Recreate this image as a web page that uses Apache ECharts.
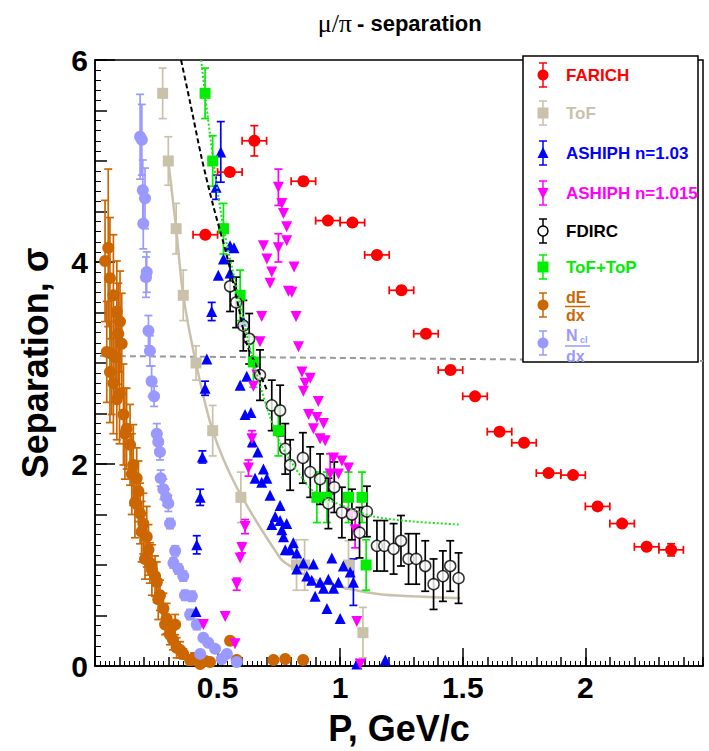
<!DOCTYPE html>
<html><head><meta charset="utf-8">
<script src="https://cdn.jsdelivr.net/npm/echarts@6/dist/echarts.min.js"></script>
<style>html,body{margin:0;padding:0;background:#fff}#c{width:709px;height:751px}</style>
</head><body><div id="c"></div>
<script>
// ---------- data (P in GeV/c, separation in sigma) ----------
const farichP   = [0.45,0.55,0.65,0.85,0.95,1.05,1.15,1.25,1.35,1.45,1.55,1.65,1.75,1.85,1.95,2.05,2.15,2.25,2.35];
const farichSep = [4.27,4.89,5.20,4.80,4.41,4.39,4.07,3.72,3.29,2.93,2.67,2.32,2.21,1.91,1.89,1.58,1.41,1.18,1.15];
const farichErr = [0.03,0.04,0.15,0.04,0.03,0.03,0.03,0.03,0.03,0.03,0.03,0.03,0.03,0.03,0.03,0.03,0.03,0.03,0.06];
const farichPErr= [0.05,0.05,0.05,0.05,0.05,0.05,0.05,0.05,0.05,0.05,0.05,0.05,0.05,0.05,0.05,0.05,0.05,0.05,0.05];

const tofP   = [0.276,0.299,0.331,0.360,0.412,0.480,0.595,0.822,0.855,1.034,1.093];
const tofSep = [5.67,5.00,4.33,3.67,3.00,2.33,1.67,1.00,1.00,1.00,0.33];
const tofErr = [0.25,0.24,0.25,0.25,0.17,0.25,0.25,0.25,0.25,0.24,0.25];

const tofFitP   = [0.299,0.331,0.360,0.412,0.480,0.578,0.755,0.796,0.891,1.027,1.163,1.299,1.490];
const tofFitSep = [5.00,4.33,3.67,3.00,2.33,1.77,1.07,0.99,0.86,0.77,0.71,0.69,0.67];

const ash103P   = [0.513,0.494,0.551,0.567,0.524,0.503,0.551,0.476,0.605,0.456,0.449,0.619,0.592,0.612,0.636,0.438,0.642,0.664,0.429,0.653,0.687,0.701,0.680,0.714,0.415,0.755,0.735,0.755,0.721,0.762,0.776,0.412,0.782,0.769,0.809,0.796,0.823,0.850,0.823,0.864,0.891,0.884,0.918,0.898,0.932,0.952,0.973,0.993,0.966,1.013,1.041,1.054,0.946,1.000,1.068,1.184];
const ash103Sep = [5.09,4.74,4.16,4.14,4.03,3.87,3.89,3.51,3.41,3.04,2.75,2.87,2.78,2.49,2.51,2.07,2.22,2.12,1.67,1.86,1.95,1.86,1.82,1.69,1.20,1.59,1.48,1.44,1.40,1.35,1.15,0.54,1.41,1.28,1.22,1.15,1.12,1.02,0.96,0.89,1.01,0.85,0.83,0.69,0.77,0.86,0.77,0.83,1.07,0.99,0.93,0.83,0.57,0.47,0.02,0.06];
const ash103Err = [0.30,0.12,0,0,0,0,0,0.09,0,0,0.07,0,0,0,0,0.06,0,0,0.08,0,0,0,0,0,0.09,0,0,0,0,0,0,0,0,0,0,0,0,0,0,0,0,0,0,0,0,0,0,0,0,0,0,0.23,0,0,0,0];

const ash1015P   = [0.748,0.762,0.769,0.782,0.687,0.748,0.782,0.701,0.721,0.714,0.789,0.680,0.673,0.812,0.803,0.820,0.830,0.660,0.646,0.640,0.626,0.612,0.599,0.592,0.578,0.531,0.442,0.571,0.844,0.878,0.857,0.850,0.911,0.871,0.905,0.932,0.891,0.918,0.939,0.973,1.007,1.034,0.993,0.959,1.041,1.061,1.068,1.082];
const ash1015Sep = [4.74,4.58,4.48,4.35,4.16,4.14,4.21,4.03,3.90,3.79,3.71,3.46,3.21,3.95,3.70,3.46,3.16,2.88,2.77,2.25,1.96,1.38,1.17,1.07,0.81,0.49,0.41,0.22,2.91,2.85,2.80,2.72,2.62,2.49,2.46,2.40,2.35,2.25,2.23,2.06,2.03,1.96,1.90,1.90,1.51,1.35,0.44,0.02];
const ash1015Err = [0.18,0,0,0,0,0.14,0,0,0,0,0,0,0,0,0,0,0,0,0,0.08,0.08,0.07,0.05,0,0.06,0,0,0,0,0,0,0,0,0,0,0,0,0,0,0,0,0,0,0.2,0,0.18,0,0];

const fdircP   = [0.551,0.576,0.605,0.629,0.673,0.721,0.755,0.776,0.796,0.848,0.878,0.918,0.952,0.976,1.007,1.048,1.079,1.109,1.150,1.180,1.218,1.248,1.279,1.310,1.347,1.381,1.419,1.449,1.483];
const fdircSep = [3.76,3.60,3.37,3.24,2.88,2.58,2.53,2.15,1.99,2.06,1.92,1.85,1.61,1.77,1.52,1.50,1.32,1.53,1.19,1.19,1.16,1.24,1.06,1.06,0.99,0.81,0.89,0.99,0.87];
const fdircErr = [0.25,0.25,0.25,0.25,0.25,0.25,0.25,0.25,0.25,0.25,0.25,0.25,0.25,0.25,0.25,0.25,0.25,0.25,0.25,0.25,0.25,0.25,0.25,0.25,0.25,0.25,0.25,0.25,0.25];

const ttP   = [0.449,0.480,0.524,0.592,0.646,0.748,0.905,0.946,1.034,1.089,1.106];
const ttSep = [5.67,5.00,4.33,3.67,3.01,2.33,1.67,1.67,1.67,1.67,1.00];
const ttErr = [0.25,0.25,0.25,0.25,0.25,0.25,0.25,0.25,0.25,0.25,0.25];

const dedxP   = [0.054,0.041,0.061,0.075,0.089,0.102,0.095,0.109,0.048,0.082,0.061,0.075,0.089,0.116,0.129,0.143,0.156,0.170,0.177,0.184,0.197,0.211,0.218,0.204,0.224,0.245,0.252,0.265,0.279,0.286,0.306,0.327,0.333,0.360,0.388,0.429,0.469,0.551,0.578,0.728,0.776,0.849,0.068,0.100,0.122,0.150,0.163,0.190,0.232,0.258,0.292,0.318,0.347,0.405,0.450];
const dedxSep = [4.14,4.01,3.84,3.67,3.51,3.41,3.29,3.19,3.11,3.06,2.91,2.80,2.64,2.49,2.35,2.19,1.99,1.86,1.73,1.51,1.41,1.28,1.15,1.06,1.02,0.89,0.83,0.70,0.57,0.41,0.31,0.41,0.18,0.12,0.06,0.02,0.04,0.25,0.06,0.06,0.07,0.06,3.09,2.70,2.30,1.90,1.62,1.33,0.95,0.66,0.47,0.26,0.16,0.08,0.05];
const dedxErr = [0.78,0.60,0.60,0.60,0.50,0.50,0.50,0.50,0.50,0.40,0.50,0.50,0.40,0.50,0.40,0.40,0.40,0.30,0.30,0.30,0.30,0.30,0.25,0.20,0.20,0.20,0.20,0.15,0.15,0.10,0.10,0.10,0.10,0.05,0.05,0,0,0,0,0,0,0,0.60,0.50,0.45,0.40,0.35,0.30,0.25,0.20,0.15,0.10,0.08,0.05,0];

const nclP   = [0.184,0.191,0.195,0.204,0.197,0.211,0.208,0.218,0.224,0.231,0.241,0.252,0.258,0.265,0.268,0.279,0.290,0.299,0.306,0.327,0.320,0.340,0.360,0.367,0.395,0.388,0.415,0.442,0.462,0.490,0.517,0.429,0.538,0.578];
const nclSep = [5.24,5.21,4.71,4.63,4.38,3.90,3.85,3.32,3.12,2.82,2.67,2.30,2.22,2.12,1.86,1.75,1.67,1.61,1.41,1.14,1.02,0.96,0.89,0.70,0.69,0.51,0.41,0.28,0.23,0.17,0.07,0.12,0.12,0.04];
const nclErr = [0.42,0.35,0.30,0.30,0.25,0.20,0.20,0.15,0.15,0.15,0.10,0.10,0.08,0.08,0.08,0.10,0.08,0.08,0.05,0.05,0.05,0.05,0.05,0.05,0.05,0.05,0.05,0.03,0.03,0.03,0.03,0.03,0.03,0.03];

const fdircFitP   = [0.351,0.388,0.435,0.483,0.538,0.580,0.619,0.660,0.700];
const fdircFitSep = [6.00,5.58,5.03,4.55,4.06,3.62,3.19,2.96,2.74];

const ttFitP   = [0.433,0.449,0.483,0.524,0.585,0.646,0.742,0.809,0.891,1.027,1.136,1.299,1.490];
const ttFitSep = [6.00,5.66,5.00,4.34,3.67,3.01,2.28,1.99,1.73,1.57,1.48,1.43,1.40];

const refLineP   = [0.02,2.48];
const refLineSep = [3.07,3.02];

const xTicks = [0.5,1,1.5,2];
const yTicks = [0,2,4,6];

// ---------- colours ----------
const C = {farich:'#ff0000', tof:'#c9c1aa', a103:'#0000ff', a1015:'#ff00ff', fdirc:'#000000', tt:'#00ee00', dedx:'#cc6600', ncl:'#9999ff'};

function pairs(a,b){ return a.map((v,i)=>[v,b[i]]); }

function errSeries(px, py, ey, ex, color, cap){
  const data = px.map((p,i)=>[p, py[i], ey ? ey[i] : 0, ex ? ex[i] : 0]);
  return {
    type:'custom', data, clip:true, silent:true, z:3,
    renderItem(params, api){
      const x=api.value(0), y=api.value(1), e=api.value(2), h=api.value(3);
      const c=api.coord([x,y]);
      const st={stroke:color, lineWidth:1.7};
      const ch=[];
      if(e>0){
        const t=api.coord([x,y+e]), b=api.coord([x,y-e]);
        ch.push({type:'line',shape:{x1:c[0],y1:t[1],x2:c[0],y2:b[1]},style:st});
        ch.push({type:'line',shape:{x1:c[0]-cap,y1:t[1],x2:c[0]+cap,y2:t[1]},style:st});
        ch.push({type:'line',shape:{x1:c[0]-cap,y1:b[1],x2:c[0]+cap,y2:b[1]},style:st});
      }
      if(h>0){
        const l=api.coord([x-h,y]), r=api.coord([x+h,y]);
        ch.push({type:'line',shape:{x1:l[0],y1:c[1],x2:r[0],y2:c[1]},style:st});
        ch.push({type:'line',shape:{x1:l[0],y1:c[1]-cap,x2:l[0],y2:c[1]+cap},style:st});
        ch.push({type:'line',shape:{x1:r[0],y1:c[1]-cap,x2:r[0],y2:c[1]+cap},style:st});
      }
      return {type:'group', children:ch};
    }
  };
}
function scat(name, px, py, symbol, size, color, extra){
  return Object.assign({type:'scatter', name, data:pairs(px,py), symbol, symbolSize:size,
    itemStyle:{color, opacity:1}, z:3, silent:true}, extra||{});
}

const FONT = 'Liberation Sans, Arial, Helvetica, sans-serif';
const chart = echarts.init(document.getElementById('c'), null, {renderer:'svg'});

const fx = v => xTicks.some(t=>Math.abs(t-v)<1e-6) ? String(v) : '';
const fy = v => yTicks.some(t=>Math.abs(t-v)<1e-6) ? String(v) : '';

const tickStyle = {color:'#000', width:1.5};

// ---------- legend (graphic) ----------
const lgX = 543, lgT = 566;
const legendRows = [
  {y:75,  color:C.farich, shape:'circle', text:'FARICH'},
  {y:113, color:C.tof,    shape:'rect',   text:'ToF'},
  {y:153, color:C.a103,   shape:'tri',    text:'ASHIPH n=1.03'},
  {y:193, color:C.a1015,  shape:'tridown',text:'ASHIPH n=1.015'},
  {y:231, color:C.fdirc,  shape:'open',   text:'FDIRC'},
  {y:267, color:C.tt,     shape:'rect',   text:'ToF+ToP'},
  {y:305, color:C.dedx,   shape:'circle', text:null},
  {y:343, color:C.ncl,    shape:'circle', text:null}
];
const txt = (x, y, s, color, size, family, weight, align) => ({type:'text', x, y, z:52,
  style:{text:s, fill:color, fontSize:size, fontWeight:weight||'bold', fontFamily:family||FONT, textAlign:align||'left', textVerticalAlign:'middle'}});
const graphic = [];
graphic.push({type:'rect', shape:{x:523,y:56,width:175,height:306}, style:{fill:'#fff', stroke:'#000', lineWidth:1.5}, z:50});
legendRows.forEach(r=>{
  const st={stroke:r.color, lineWidth:1.5};
  graphic.push({type:'line', shape:{x1:lgX,y1:r.y-12,x2:lgX,y2:r.y+12}, style:st, z:51});
  graphic.push({type:'line', shape:{x1:lgX-4,y1:r.y-12,x2:lgX+4,y2:r.y-12}, style:st, z:51});
  graphic.push({type:'line', shape:{x1:lgX-4,y1:r.y+12,x2:lgX+4,y2:r.y+12}, style:st, z:51});
  if(r.shape==='circle') graphic.push({type:'circle', shape:{cx:lgX,cy:r.y,r:5.5}, style:{fill:r.color}, z:52});
  if(r.shape==='open') graphic.push({type:'circle', shape:{cx:lgX,cy:r.y,r:5}, style:{fill:'#fff',stroke:'#000',lineWidth:1.5}, z:52});
  if(r.shape==='rect') graphic.push({type:'rect', shape:{x:lgX-5.5,y:r.y-5.5,width:11,height:11}, style:{fill:r.color}, z:52});
  if(r.shape==='tri') graphic.push({type:'polygon', shape:{points:[[lgX,r.y-6],[lgX+5.5,r.y+5],[lgX-5.5,r.y+5]]}, style:{fill:r.color}, z:52});
  if(r.shape==='tridown') graphic.push({type:'polygon', shape:{points:[[lgX,r.y+6],[lgX+5.5,r.y-5],[lgX-5.5,r.y-5]]}, style:{fill:r.color}, z:52});
  if(r.text) graphic.push(txt(lgT, r.y, r.text, r.color, 17));
});
// fractions dE/dx and Ncl/dx
graphic.push(txt(lgT, 297, 'dE', C.dedx, 16));
graphic.push({type:'line', shape:{x1:565,y1:306.5,x2:590,y2:306.5}, style:{stroke:C.dedx, lineWidth:1.5}, z:52});
graphic.push(txt(lgT, 315, 'dx', C.dedx, 16));
graphic.push(txt(lgT, 335, 'N', C.ncl, 16));
graphic.push(txt(580, 340, 'cl', C.ncl, 9));
graphic.push({type:'line', shape:{x1:565,y1:346,x2:590,y2:346}, style:{stroke:C.ncl, lineWidth:1.5}, z:52});
graphic.push(txt(lgT, 356, 'dx', C.ncl, 16));
// title
graphic.push(txt(352, 23, 'μ/π', '#000', 26, 'Liberation Serif, DejaVu Serif, serif', 'normal', 'right'));
graphic.push(txt(357, 23, '- separation', '#000', 22, FONT, 'bold', 'left'));

const option = {
  animation:false,
  backgroundColor:'#fff',
  grid:{left:95, top:60, width:608, height:619, show:true, borderColor:'#000', borderWidth:1.5, backgroundColor:'transparent'},
  xAxis:[
    {type:'value', position:'bottom', offset:0, min:0, max:2.48, interval:0.5, splitLine:{show:false},
     axisLine:{lineStyle:{color:'#000', width:1.5}},
     axisTick:{inside:true, length:18, lineStyle:tickStyle},
     axisLabel:{formatter:fx, color:'#000', fontSize:30, fontWeight:'bold', fontFamily:FONT, margin:6, showMaxLabel:false},
     name:'P, GeV/c', nameLocation:'middle', nameGap:44,
     nameTextStyle:{fontSize:36, fontWeight:'bold', color:'#000', fontFamily:FONT}},
    {type:'value', position:'bottom', offset:0, min:0, max:2.48, interval:0.1, splitLine:{show:false},
     axisLine:{show:false}, axisLabel:{show:false},
     axisTick:{inside:true, length:9, lineStyle:tickStyle},
     minorTick:{show:true, splitNumber:5, length:5, lineStyle:{color:'#000', width:1}}}
  ],
  yAxis:[
    {type:'value', position:'left', offset:0, min:0, max:6, interval:2, splitLine:{show:false},
     axisLine:{lineStyle:{color:'#000', width:1.5}},
     axisTick:{inside:true, length:20, lineStyle:tickStyle},
     axisLabel:{formatter:fy, color:'#000', fontSize:30, fontWeight:'bold', fontFamily:FONT, margin:7},
     name:'Separation, σ', nameLocation:'middle', nameGap:42,
     nameTextStyle:{fontSize:36, fontWeight:'bold', color:'#000', fontFamily:FONT}},
    {type:'value', position:'left', offset:0, min:0, max:6, interval:0.5, splitLine:{show:false},
     axisLine:{show:false}, axisLabel:{show:false},
     axisTick:{inside:true, length:12, lineStyle:tickStyle},
     minorTick:{show:true, splitNumber:5, length:6, lineStyle:{color:'#000', width:1}}}
  ],
  graphic,
  series:[
    {type:'line', data:pairs(refLineP, refLineSep), symbol:'none', silent:true, z:2,
     lineStyle:{color:'#999999', width:2, type:[6,4]}},
    {type:'line', data:pairs(tofFitP, tofFitSep), symbol:'none', smooth:0.3, silent:true, z:2,
     lineStyle:{color:C.tof, width:2.5}},
    errSeries(dedxP, dedxSep, dedxErr, null, C.dedx, 4),
    scat('dE/dx', dedxP, dedxSep, 'circle', 12, C.dedx),
    errSeries(nclP, nclSep, nclErr, null, C.ncl, 4),
    scat('Ncl/dx', nclP, nclSep, 'circle', 12, C.ncl),
    errSeries(tofP, tofSep, tofErr, null, C.tof, 4),
    scat('ToF', tofP, tofSep, 'rect', 11, C.tof),
    errSeries(ash103P, ash103Sep, ash103Err, null, C.a103, 4),
    scat('ASHIPH n=1.03', ash103P, ash103Sep, 'triangle', 11, C.a103),
    errSeries(ash1015P, ash1015Sep, ash1015Err, null, C.a1015, 4),
    scat('ASHIPH n=1.015', ash1015P, ash1015Sep, 'triangle', 11, C.a1015, {symbolRotate:180}),
    errSeries(ttP, ttSep, ttErr, null, C.tt, 4),
    scat('ToF+ToP', ttP, ttSep, 'rect', 11, C.tt),
    errSeries(fdircP, fdircSep, fdircErr, null, C.fdirc, 4),
    scat('FDIRC', fdircP, fdircSep, 'circle', 11, '#ffffff', {itemStyle:{color:'#ffffff', borderColor:'#000', borderWidth:1.5}}),
    errSeries(farichP, farichSep, farichErr, farichPErr, C.farich, 4),
    scat('FARICH', farichP, farichSep, 'circle', 12, C.farich),
    {type:'line', data:pairs(fdircFitP, fdircFitSep), symbol:'none', smooth:0.3, silent:true, z:4,
     lineStyle:{color:'#000', width:2, type:[5,3]}},
    {type:'line', data:pairs(ttFitP, ttFitSep), symbol:'none', smooth:0.3, silent:true, z:4,
     lineStyle:{color:'#22dd22', width:2, type:[2,2]}}
  ]
};
chart.setOption(option);
</script></body></html>
